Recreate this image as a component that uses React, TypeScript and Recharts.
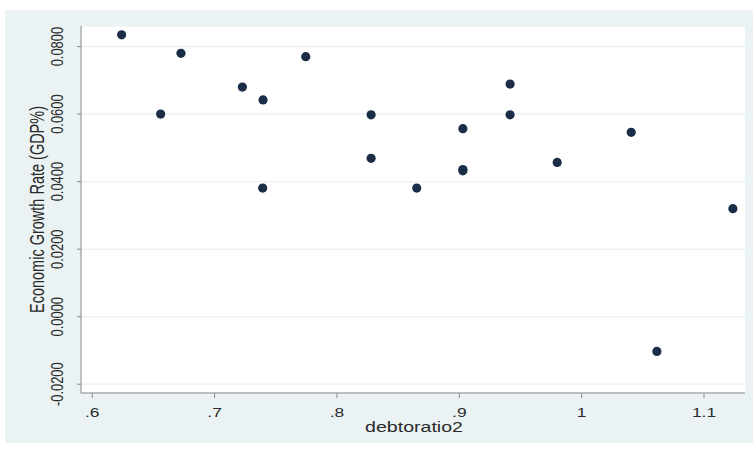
import { ScatterChart, Scatter, XAxis, YAxis, CartesianGrid } from "recharts";

// values
const debtRatio = [
  0.624, 0.6725, 0.7745, 0.7227, 0.7396, 0.6559, 0.7393, 0.9415, 0.8279, 0.9415,
  0.9029, 0.8279, 0.9029, 0.9029, 0.8652, 1.0405, 0.98, 1.1236, 1.0615,
];
const growthRate = [
  0.0835, 0.078, 0.077, 0.068, 0.0642, 0.06, 0.0381, 0.0689, 0.0598, 0.0598,
  0.0557, 0.0469, 0.0436, 0.0432, 0.0381, 0.0546, 0.0457, 0.032, -0.0103,
];
const xTicks = [0.6, 0.7, 0.8, 0.9, 1.0, 1.1];
const yTicks = [-0.02, 0, 0.02, 0.04, 0.06, 0.08];

const data = debtRatio.map((x, i) => ({ x, y: growthRate[i] }));

const FONT = "'Liberation Sans', Arial, sans-serif";
const STRETCH = 1.35;
const TEXT = "#2a2a2a";
const AXIS = "#8a8a8a";

const fmtX = (v: number) =>
  v < 1 ? "." + Math.round(v * 10) : v === 1 ? "1" : v.toFixed(1);

const XTick = (props: any) => {
  const { x, y, payload } = props;
  return (
    <g transform={`translate(${x},${y + 17}) scale(${STRETCH},1)`}>
      <text textAnchor="middle" fontSize={12.9} fontFamily={FONT} fill={TEXT}>
        {fmtX(payload.value)}
      </text>
    </g>
  );
};

const YTick = (props: any) => {
  const { x, y, payload } = props;
  return (
    <g transform={`translate(${x - 12},${y}) scale(${STRETCH},1) rotate(-90)`}>
      <text textAnchor="middle" fontSize={12.9} fontFamily={FONT} fill={TEXT}>
        {payload.value.toFixed(4)}
      </text>
    </g>
  );
};

const Dot = (props: any) => (
  <circle cx={props.cx} cy={props.cy} r={4.6} fill="#1c2d48" />
);

export default function App() {
  return (
    <div style={{ position: "absolute", left: 0, top: 0, width: 753, height: 449, background: "#fff" }}>
      <div style={{ position: "absolute", left: 5, top: 10, width: 748, height: 433, background: "#eaf2f3" }} />
      <div style={{ position: "absolute", left: 0, top: 0 }}>
        <ScatterChart width={753} height={449} margin={{ top: 26, right: 8, bottom: 0, left: 0 }}>
          <CartesianGrid vertical={false} fill="#fff" stroke="#edf2f4" strokeWidth={1.5} />
          <XAxis
            type="number"
            dataKey="x"
            domain={[0.5908, 1.1335]}
            ticks={xTicks}
            allowDataOverflow
            height={56}
            stroke={AXIS}
            tickSize={5}
            tick={<XTick />}
            label={{
              content: () => (
                <g transform={`translate(414,432) scale(${STRETCH},1)`}>
                  <text textAnchor="middle" fontSize={14.5} fontFamily={FONT} fill={TEXT}>
                    debtoratio2
                  </text>
                </g>
              ),
            }}
          />
          <YAxis
            type="number"
            dataKey="y"
            domain={[-0.0226, 0.0861]}
            ticks={yTicks}
            allowDataOverflow
            width={81}
            stroke={AXIS}
            tickSize={4}
            tick={<YTick />}
            label={{
              content: () => (
                <g transform={`translate(44,209.5) scale(${STRETCH},1) rotate(-90)`}>
                  <text textAnchor="middle" fontSize={14.5} fontFamily={FONT} fill={TEXT}>
                    Economic Growth Rate (GDP%)
                  </text>
                </g>
              ),
            }}
          />
          <Scatter data={data} shape={<Dot />} isAnimationActive={false} />
        </ScatterChart>
      </div>
    </div>
  );
}
